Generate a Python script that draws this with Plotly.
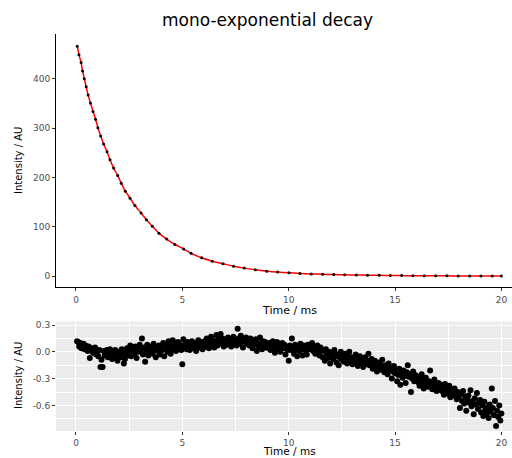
import plotly.graph_objects as go

# fitted decay (top panel)
decay_time = [0.06, 0.14, 0.24, 0.31, 0.39, 0.48, 0.57, 0.68, 0.80, 0.92,
              1.03, 1.16, 1.30, 1.46, 1.60, 1.77, 1.96, 2.13, 2.32, 2.54,
              2.77, 3.06, 3.31, 3.59, 3.90, 4.26, 4.65, 5.06, 5.41, 5.91,
              6.41, 6.91, 7.41, 7.91, 8.43, 8.97, 9.48, 10.01, 10.53, 11.06,
              11.60, 12.12, 12.63, 13.18, 13.71, 14.26, 14.78, 15.31, 15.84, 16.37,
              16.91, 17.44, 17.97, 18.51, 19.04, 19.57, 20.00]
decay_intensity = [466, 449, 433, 416, 400, 384, 367, 351, 334, 318,
                   301, 284, 268, 252, 236, 219, 204, 188, 172, 158,
                   143, 128, 114, 101, 87, 75, 64, 55, 46, 37,
                   30, 25, 20, 16, 12.8, 9.8, 8.1, 6.6, 5.3, 4.3,
                   3.5, 2.9, 2.4, 2.0, 1.6, 1.3, 1.0, 0.8, 0.6, 0.5,
                   0.4, 0.3, 0.25, 0.2, 0.15, 0.12, 0.1]

# residuals (bottom panel)
res_time = [
    0.05, 0.10, 0.15, 0.20, 0.25, 0.30, 0.35, 0.40, 0.45, 0.50, 0.55, 0.60, 0.65, 0.70, 0.75, 0.80, 0.85, 0.90, 0.95, 1.00,
    1.05, 1.10, 1.15, 1.20, 1.25, 1.30, 1.35, 1.40, 1.45, 1.50, 1.55, 1.60, 1.65, 1.70, 1.75, 1.80, 1.85, 1.90, 1.95, 2.00,
    2.05, 2.10, 2.15, 2.20, 2.25, 2.30, 2.35, 2.40, 2.45, 2.50, 2.55, 2.60, 2.65, 2.70, 2.75, 2.80, 2.85, 2.90, 2.95, 3.00,
    3.05, 3.10, 3.15, 3.20, 3.25, 3.30, 3.35, 3.40, 3.45, 3.50, 3.55, 3.60, 3.65, 3.70, 3.75, 3.80, 3.85, 3.90, 3.95, 4.00,
    4.05, 4.10, 4.15, 4.20, 4.25, 4.30, 4.35, 4.40, 4.45, 4.50, 4.55, 4.60, 4.65, 4.70, 4.75, 4.80, 4.85, 4.90, 4.95, 5.00,
    5.05, 5.10, 5.15, 5.20, 5.25, 5.30, 5.35, 5.40, 5.45, 5.50, 5.55, 5.60, 5.65, 5.70, 5.75, 5.80, 5.85, 5.90, 5.95, 6.00,
    6.05, 6.10, 6.15, 6.20, 6.25, 6.30, 6.35, 6.40, 6.45, 6.50, 6.55, 6.60, 6.65, 6.70, 6.75, 6.80, 6.85, 6.90, 6.95, 7.00,
    7.05, 7.10, 7.15, 7.20, 7.25, 7.30, 7.35, 7.40, 7.45, 7.50, 7.55, 7.60, 7.65, 7.70, 7.75, 7.80, 7.85, 7.90, 7.95, 8.00,
    8.05, 8.10, 8.15, 8.20, 8.25, 8.30, 8.35, 8.40, 8.45, 8.50, 8.55, 8.60, 8.65, 8.70, 8.75, 8.80, 8.85, 8.90, 8.95, 9.00,
    9.05, 9.10, 9.15, 9.20, 9.25, 9.30, 9.35, 9.40, 9.45, 9.50, 9.55, 9.60, 9.65, 9.70, 9.75, 9.80, 9.85, 9.90, 9.95, 10.00,
    10.05, 10.10, 10.15, 10.20, 10.25, 10.30, 10.35, 10.40, 10.45, 10.50, 10.55, 10.60, 10.65, 10.70, 10.75, 10.80, 10.85, 10.90, 10.95, 11.00,
    11.05, 11.10, 11.15, 11.20, 11.25, 11.30, 11.35, 11.40, 11.45, 11.50, 11.55, 11.60, 11.65, 11.70, 11.75, 11.80, 11.85, 11.90, 11.95, 12.00,
    12.05, 12.10, 12.15, 12.20, 12.25, 12.30, 12.35, 12.40, 12.45, 12.50, 12.55, 12.60, 12.65, 12.70, 12.75, 12.80, 12.85, 12.90, 12.95, 13.00,
    13.05, 13.10, 13.15, 13.20, 13.25, 13.30, 13.35, 13.40, 13.45, 13.50, 13.55, 13.60, 13.65, 13.70, 13.75, 13.80, 13.85, 13.90, 13.95, 14.00,
    14.05, 14.10, 14.15, 14.20, 14.25, 14.30, 14.35, 14.40, 14.45, 14.50, 14.55, 14.60, 14.65, 14.70, 14.75, 14.80, 14.85, 14.90, 14.95, 15.00,
    15.05, 15.10, 15.15, 15.20, 15.25, 15.30, 15.35, 15.40, 15.45, 15.50, 15.55, 15.60, 15.65, 15.70, 15.75, 15.80, 15.85, 15.90, 15.95, 16.00,
    16.05, 16.10, 16.15, 16.20, 16.25, 16.30, 16.35, 16.40, 16.45, 16.50, 16.55, 16.60, 16.65, 16.70, 16.75, 16.80, 16.85, 16.90, 16.95, 17.00,
    17.05, 17.10, 17.15, 17.20, 17.25, 17.30, 17.35, 17.40, 17.45, 17.50, 17.55, 17.60, 17.65, 17.70, 17.75, 17.80, 17.85, 17.90, 17.95, 18.00,
    18.05, 18.10, 18.15, 18.20, 18.25, 18.30, 18.35, 18.40, 18.45, 18.50, 18.55, 18.60, 18.65, 18.70, 18.75, 18.80, 18.85, 18.90, 18.95, 19.00,
    19.05, 19.10, 19.15, 19.20, 19.25, 19.30, 19.35, 19.40, 19.45, 19.50, 19.55, 19.60, 19.65, 19.70, 19.75, 19.80, 19.85, 19.90, 19.95, 20.00,
]
residual = [
    0.12, 0.11, 0.06, 0.10, 0.04, 0.08, 0.09, 0.03, 0.07, 0.05, 0.01, 0.06, -0.07, 0.03, 0.04, -0.01, 0.02, 0.05, -0.03, 0.00,
    -0.05, 0.02, -0.17, -0.09, -0.17, 0.01, -0.04, -0.02, 0.02, -0.06, -0.01, 0.03, -0.03, -0.08, 0.01, -0.05, 0.02, -0.02, -0.10, -0.04,
    0.00, -0.06, 0.03, -0.03, -0.13, -0.08, -0.01, 0.04, -0.04, 0.02, 0.07, -0.05, 0.01, 0.05, -0.02, 0.06, -0.07, 0.03, 0.00, 0.08,
    0.02, 0.15, -0.03, 0.05, -0.11, 0.01, 0.08, -0.04, 0.04, 0.00, 0.06, -0.02, 0.09, 0.03, -0.06, 0.05, 0.01, 0.07, -0.03, 0.04,
    0.02, 0.10, -0.05, 0.05, 0.08, 0.00, 0.12, 0.04, -0.02, 0.07, 0.13, 0.03, 0.09, 0.01, 0.06, 0.11, 0.04, 0.08, 0.02, -0.14,
    0.14, 0.05, 0.09, 0.03, 0.11, 0.06, 0.02, 0.08, 0.12, 0.04, 0.10, 0.07, 0.01, 0.09, 0.13, 0.05, 0.08, 0.11, 0.03, 0.07,
    0.12, 0.06, 0.15, 0.09, 0.04, 0.11, 0.17, 0.08, 0.13, 0.05, 0.10, 0.19, 0.07, 0.14, 0.12, 0.20, 0.09, 0.15, 0.06, 0.11,
    0.13, 0.08, 0.16, 0.11, 0.14, 0.06, 0.12, 0.17, 0.10, 0.13, 0.07, 0.26, 0.15, 0.09, 0.18, 0.12, 0.05, 0.14, 0.11, 0.16,
    0.09, 0.13, 0.07, 0.15, 0.11, 0.04, 0.12, 0.08, 0.14, 0.01, 0.10, 0.06, 0.16, 0.09, 0.03, 0.12, 0.07, 0.11, 0.05, 0.09,
    0.04, 0.10, 0.02, 0.08, 0.12, 0.05, -0.01, 0.07, 0.11, 0.03, 0.09, 0.00, 0.06, 0.10, 0.04, 0.08, -0.03, 0.05, 0.02, -0.10,
    0.07, 0.02, 0.15, 0.05, -0.02, 0.08, 0.03, -0.05, 0.06, 0.01, 0.09, 0.04, -0.04, 0.07, 0.02, 0.05, -0.03, 0.08, 0.03, 0.06,
    0.04, 0.10, 0.01, 0.06, -0.02, 0.03, 0.07, 0.00, -0.04, 0.05, 0.02, -0.06, 0.01, -0.10, 0.03, -0.02, -0.07, 0.00, -0.13, -0.04,
    -0.01, -0.08, 0.02, -0.05, -0.12, -0.03, -0.15, -0.06, 0.00, -0.09, -0.04, -0.11, -0.02, -0.07, -0.13, -0.05, 0.00, -0.10, -0.06, -0.14,
    -0.07, -0.12, -0.03, -0.10, -0.16, -0.08, -0.05, -0.13, -0.09, -0.17, -0.11, -0.06, -0.14, -0.10, -0.02, -0.15, -0.12, -0.08, -0.19, -0.13,
    -0.10, -0.16, -0.22, -0.12, -0.18, -0.14, -0.20, -0.09, -0.17, -0.23, -0.15, -0.19, -0.25, -0.13, -0.21, -0.18, -0.30, -0.22, -0.16, -0.24,
    -0.20, -0.33, -0.26, -0.19, -0.37, -0.24, -0.29, -0.21, -0.27, -0.35, -0.23, -0.15, -0.28, -0.25, -0.45, -0.30, -0.22, -0.33, -0.26, -0.31,
    -0.28, -0.34, -0.38, -0.30, -0.25, -0.36, -0.41, -0.32, -0.29, -0.35, -0.39, -0.33, -0.21, -0.37, -0.42, -0.34, -0.31, -0.38, -0.44, -0.36,
    -0.35, -0.41, -0.37, -0.44, -0.39, -0.48, -0.36, -0.43, -0.40, -0.47, -0.38, -0.51, -0.44, -0.42, -0.49, -0.41, -0.46, -0.53, -0.45, -0.50,
    -0.63, -0.47, -0.55, -0.44, -0.58, -0.50, -0.66, -0.53, -0.49, -0.57, -0.43, -0.61, -0.55, -0.70, -0.52, -0.59, -0.46, -0.64, -0.57, -0.54,
    -0.68, -0.60, -0.72, -0.56, -0.65, -0.70, -0.62, -0.74, -0.59, -0.67, -0.41, -0.63, -0.71, -0.55, -0.83, -0.66, -0.73, -0.60, -0.77, -0.69,
]

x_ticks = [0, 5, 10, 15, 20]

W, H = 512, 458
font = "DejaVu Sans"
tick_font = dict(family=font, size=9, color="#4D4D4D")

fig = go.Figure()

# top: fit curve and data points
fig.add_trace(go.Scatter(
    x=decay_time, y=decay_intensity, mode="lines",
    line=dict(color="red", width=1.5, shape="spline", smoothing=0.6),
    xaxis="x", yaxis="y", hoverinfo="skip"
))
fig.add_trace(go.Scatter(
    x=decay_time, y=decay_intensity, mode="markers",
    marker=dict(color="black", size=3),
    xaxis="x", yaxis="y"
))

# bottom: residuals
fig.add_trace(go.Scatter(
    x=res_time, y=residual, mode="markers",
    marker=dict(color="black", size=6, line=dict(width=0)),
    xaxis="x2", yaxis="y2"
))

axis_common = dict(
    ticks="outside", ticklen=3, tickwidth=1, tickcolor="#333333",
    tickfont=tick_font, zeroline=False, automargin=False,
)

fig.update_layout(
    width=W, height=H,
    margin=dict(l=0, r=0, t=0, b=0),
    paper_bgcolor="white",
    plot_bgcolor="white",
    showlegend=False,
    xaxis=dict(
        domain=[56 / W, 1.0], anchor="y",
        range=[-0.94, 20.5], tickvals=x_ticks, ticklabelstandoff=1,
        showline=True, linecolor="black", linewidth=1.1,
        showgrid=False, **axis_common
    ),
    yaxis=dict(
        domain=[1 - 287 / H, 1 - 34 / H], anchor="x",
        range=[-22.3, 491], tickvals=[0, 100, 200, 300, 400],
        showline=True, linecolor="black", linewidth=1.1,
        showgrid=False, **axis_common
    ),
    xaxis2=dict(
        domain=[56 / W, 1.0], anchor="y2",
        range=[-0.94, 20.5], tickvals=x_ticks, ticklabelstandoff=0,
        showline=False, showgrid=True, gridcolor="white", gridwidth=1.1,
        minor=dict(tickvals=[2.5, 7.5, 12.5, 17.5], showgrid=True,
                   gridcolor="white", gridwidth=0.5, ticks=""),
        **axis_common
    ),
    yaxis2=dict(
        domain=[1 - 431 / H, 1 - 321.5 / H], anchor="x2",
        range=[-0.887, 0.34], tickvals=[0.3, 0.0, -0.3, -0.6],
        ticktext=["0.3", "0.0", "-0.3", "-0.6"],
        showline=False, showgrid=True, gridcolor="white", gridwidth=1.1,
        minor=dict(tickvals=[0.15, -0.15, -0.45, -0.75], showgrid=True,
                   gridcolor="white", gridwidth=0.5, ticks=""),
        **axis_common
    ),
    shapes=[dict(
        type="rect", xref="x2 domain", yref="y2 domain",
        x0=0, x1=1, y0=0, y1=1,
        fillcolor="#EBEBEB", line=dict(width=0), layer="below"
    )],
    annotations=[
        dict(text="mono-exponential decay", x=267.5 / W, y=1 - 20 / H,
             xref="paper", yref="paper", showarrow=False,
             xanchor="center", yanchor="middle",
             font=dict(family=font, size=17, color="black")),
        dict(text="Time / ms", x=289 / W, y=1 - 310 / H,
             xref="paper", yref="paper", showarrow=False,
             xanchor="center", yanchor="middle",
             font=dict(family=font, size=11, color="black")),
        dict(text="Time / ms", x=289 / W, y=0,
             xref="paper", yref="paper", showarrow=False,
             xanchor="center", yanchor="bottom", borderpad=0,
             font=dict(family=font, size=10.5, color="black")),
        dict(text="Intensity / AU", x=18 / W, y=1 - 161 / H,
             xref="paper", yref="paper", showarrow=False, textangle=-90,
             xanchor="center", yanchor="middle",
             font=dict(family=font, size=10, color="black")),
        dict(text="Intensity / AU", x=18 / W, y=1 - 376 / H,
             xref="paper", yref="paper", showarrow=False, textangle=-90,
             xanchor="center", yanchor="middle",
             font=dict(family=font, size=10, color="black")),
    ],
)

# the page body has a default 8px margin; drop it so the figure sits at 0,0
fig.write_html("out.html", config={"displayModeBar": False},
               post_script="document.body.style.margin='0px';")
